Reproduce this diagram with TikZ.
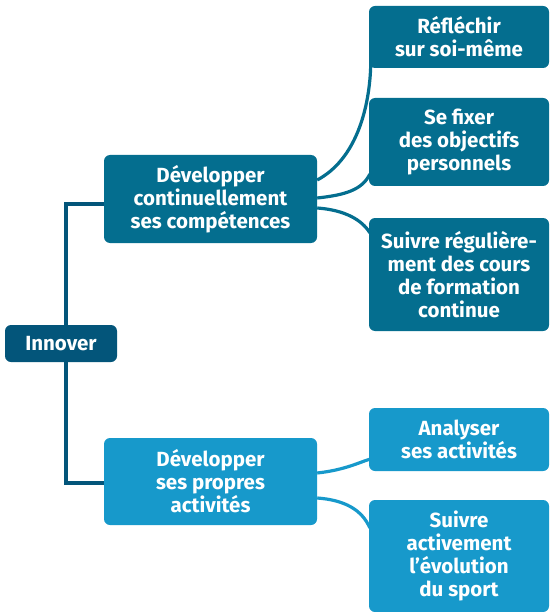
\documentclass[tikz,border=0pt]{standalone}
\usepackage{fontspec}
\setmainfont{Fira Sans}
\definecolor{cdark}{HTML}{03557A}
\definecolor{cmid}{HTML}{046E8F}
\definecolor{clight}{HTML}{1799CB}
\begin{document}
\begin{tikzpicture}[x=1pt,y=-1pt,
  box/.style={rounded corners=6pt, text=white, align=center, font=\fontsize{20.5}{23}\selectfont\bfseries, inner sep=0pt},
  link/.style={line width=3.2pt}]
\useasboundingbox (0,0) rectangle (549,612);
\node[box, fill=cdark, minimum width=112pt, minimum height=37pt] (innover) at (61,343.5) {Innover};
\node[box, fill=cmid, minimum width=213pt, minimum height=88pt] (dc) at (210.5,199) {Développer\\continuellement\\ses compétences};
\node[box, fill=clight, minimum width=213pt, minimum height=87pt] (dp) at (210.5,481.5) {Développer\\ses propres\\activités};
\node[box, fill=cmid, minimum width=180pt, minimum height=62pt] (r1) at (459,37) {Réfléchir\\sur soi-même};
\node[box, fill=cmid, minimum width=180pt, minimum height=88pt] (r2) at (459,142) {Se fixer\\des objectifs\\personnels};
\node[box, fill=cmid, minimum width=180pt, minimum height=113pt] (r3) at (459,274.5) {Suivre régulière-\\ment des cours\\de formation\\continue};
\node[box, fill=clight, minimum width=180pt, minimum height=63pt] (a1) at (459,439.5) {Analyser\\ses activités};
\node[box, fill=clight, minimum width=180pt, minimum height=112pt] (a2) at (459,556) {Suivre\\activement\\l’évolution\\du sport};
\draw[link, cdark] ([xshift=5pt]innover.north) |- ([yshift=-5pt]dc.west);
\draw[link, cdark] ([xshift=5pt]innover.south) |- ([yshift=-1.5pt]dp.west);
\draw[link, cmid] ([yshift=19pt]dc.east) .. controls (355,160) and (370,110) .. ([xshift=2pt,yshift=6pt]r1.south west);
\draw[link, cmid] ([yshift=1pt]dc.east) .. controls (345,195) and (362,190) .. ([xshift=1pt,yshift=12pt]r2.south west);
\draw[link, cmid] ([yshift=-9pt]dc.east) .. controls (345,210) and (362,220) .. ([xshift=1pt,yshift=-15pt]r3.north west);
\draw[link, clight] ([yshift=8.5pt]dp.east) .. controls (345,470) and (360,462) .. ([xshift=1pt,yshift=12pt]a1.south west);
\draw[link, clight] ([yshift=-16.5pt]dp.east) .. controls (345,500) and (362,510) .. ([xshift=1pt,yshift=-28pt]a2.north west);
\end{tikzpicture}
\end{document}
